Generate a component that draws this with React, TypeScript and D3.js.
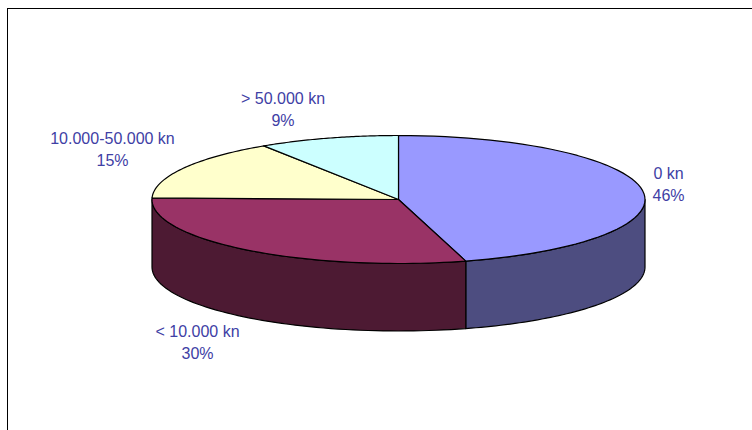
import React from 'react';
import * as d3 from 'd3';

// slices go clockwise from 12 o'clock
const categories = ['0 kn', '< 10.000 kn', '10.000-50.000 kn', '> 50.000 kn'];
const shares = [45.6, 29.8, 15.4, 9.2];
const topColors = ['#9999ff', '#993366', '#ffffcc', '#ccffff'];
const sideColors = ['#4d4d80', '#4d1a33', '#80805f', '#668080'];
const labelAnchors: [number, number][] = [[668.5, 179], [197.5, 337], [112.5, 144], [283, 104]];

const width = 752;
const height = 430;
const cx = 398.5;
const cy = 199.5;
const rx = 246.5;
const ry = 64;
const depth = 67.5;

const pie = d3.pie<number>().sort(null).value(d => d);
const arcs = pie(shares);

// rim point on the flattened ellipse, angle in radians from 12 o'clock
const rimX = (a: number) => cx + rx * Math.sin(a);
const rimY = (a: number) => cy - ry * Math.cos(a);

const line = d3.line<[number, number]>();

const wedgePath = (start: number, end: number) => {
  const angles = d3.range(0, 61).map(i => start + ((end - start) * i) / 60);
  const pts = angles.map(a => [rimX(a), rimY(a)] as [number, number]);
  return line([[cx, cy], ...pts]) + 'Z';
};

// outer wall, only the part facing the viewer (3 o'clock to 9 o'clock)
const wallPath = (start: number, end: number) => {
  const s = Math.max(start, Math.PI / 2);
  const e = Math.min(end, (3 * Math.PI) / 2);
  if (e <= s) return null;
  const angles = d3.range(0, 61).map(i => s + ((e - s) * i) / 60);
  const upper = angles.map(a => [rimX(a), rimY(a)] as [number, number]);
  const lower = upper.map(([x, y]) => [x, y + depth] as [number, number]).reverse();
  return line([...upper, ...lower]) + 'Z';
};

export default function App() {
  return (
    <svg
      width={width}
      height={height}
      style={{ position: 'absolute', left: 0, top: 0, background: '#fff' }}
      fontFamily="'Liberation Sans', Arial, sans-serif"
    >
      <rect x={7.5} y={8.5} width={width + 20} height={height + 20} fill="#fff" stroke="#000" strokeWidth={1} />
      {arcs.map((d, i) => {
        const p = wallPath(d.startAngle, d.endAngle);
        return p ? <path key={i} d={p} fill={sideColors[i]} stroke="#000" strokeWidth={1.2} strokeLinejoin="round" /> : null;
      })}
      {arcs.map((d, i) => (
        <path
          key={i}
          d={wedgePath(d.startAngle, d.endAngle) || ''}
          fill={topColors[i]}
          stroke="#000"
          strokeWidth={1.2}
          strokeLinejoin="round"
        />
      ))}
      {categories.map((c, i) => (
        <text key={c} textAnchor="middle" fontSize={16} fill="#4040a5">
          <tspan x={labelAnchors[i][0]} y={labelAnchors[i][1]}>{c}</tspan>
          <tspan x={labelAnchors[i][0]} y={labelAnchors[i][1] + 22}>{d3.format('.0f')(shares[i])}%</tspan>
        </text>
      ))}
    </svg>
  );
}
